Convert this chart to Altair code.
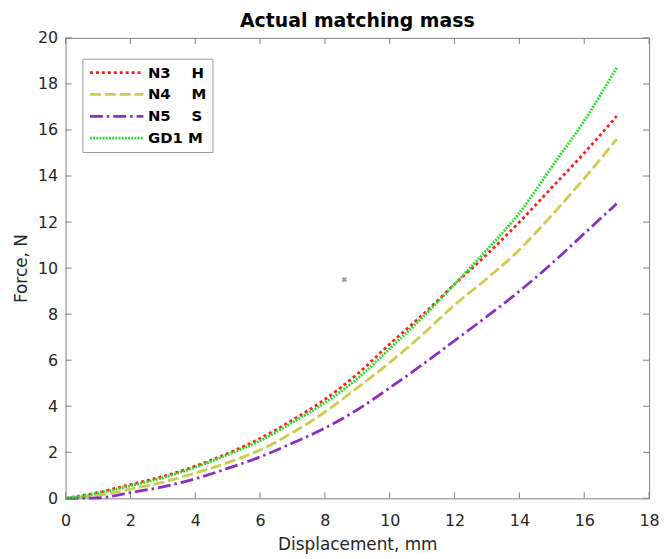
import altair as alt
import pandas as pd

x_vals = list(range(18))
n3 = [0, 0.25, 0.6, 0.95, 1.4, 1.95, 2.6, 3.4, 4.3, 5.4, 6.7, 7.95, 9.3, 10.6, 12.0, 13.5, 15.0, 16.6]
n4 = [0, 0.12, 0.4, 0.7, 1.1, 1.55, 2.1, 2.85, 3.75, 4.8, 5.9, 7.1, 8.4, 9.55, 10.8, 12.3, 13.9, 15.6]
n5 = [0, 0.02, 0.25, 0.5, 0.85, 1.3, 1.8, 2.4, 3.05, 3.85, 4.8, 5.8, 6.85, 7.9, 9.0, 10.2, 11.5, 12.8]
gd1 = [0, 0.22, 0.55, 0.9, 1.35, 1.9, 2.5, 3.3, 4.15, 5.2, 6.5, 7.85, 9.3, 10.8, 12.4, 14.4, 16.4, 18.7]

NB = "\u00a0"
series_names = ["N3" + NB * 4 + "H", "N4" + NB * 4 + "M", "N5" + NB * 4 + "S", "GD1" + NB + "M"]
series_values = [n3, n4, n5, gd1]
series_colors = ["#ff1a1a", "#cccc4d", "#8a2fc0", "#2fe02f"]
series_dash = [[3, 3], [11, 4], [13, 4, 2.5, 4], [2, 1.2]]

x_ticks = list(range(0, 19, 2))
y_ticks = list(range(0, 21, 2))
marker_x = [8.6]
marker_y = [9.5]

rows = []
for name, vals in zip(series_names, series_values):
    for xv, yv in zip(x_vals, vals):
        rows.append({"series": name, "x": xv, "y": yv, "order": series_names.index(name)})
df = pd.DataFrame(rows)

W, H = 588, 464
xs = alt.Scale(domain=[0, 18], nice=False)
ys = alt.Scale(domain=[0, 20], nice=False)

lines = alt.Chart(df).mark_line(strokeWidth=2.8, interpolate="monotone").encode(
    x=alt.X("x:Q", scale=xs, axis=alt.Axis(values=x_ticks, title="Displacement, mm", ticks=False,
                                           labelFlush=False, domain=False, grid=False,
                                           labelPadding=14, titlePadding=9)),
    y=alt.Y("y:Q", scale=ys, axis=alt.Axis(values=y_ticks, title="Force, N", ticks=False,
                                           labelFlush=False, domain=False, grid=False,
                                           labelPadding=8, titlePadding=7)),
    color=alt.Color("series:N", scale=alt.Scale(domain=series_names, range=series_colors),
                    legend=alt.Legend(title=None, orient="none", legendX=17, legendY=21,
                                      symbolType="stroke", symbolSize=2900, symbolStrokeWidth=2.8,
                                      clipHeight=16,
                                      labelFont="DejaVu Sans", labelFontWeight="bold", labelFontSize=15,
                                      labelColor="#000000", strokeColor="#999999", fillColor="#ffffff",
                                      padding=6, rowPadding=6, labelOffset=3)),
    strokeDash=alt.StrokeDash("series:N", scale=alt.Scale(domain=series_names, range=series_dash)),
    order="order:Q",
)

bx = pd.DataFrame({"t": x_ticks})
by = pd.DataFrame({"t": y_ticks})
tick_col = "#808080"
tb = alt.Chart(bx).mark_rule(color=tick_col).encode(x=alt.X("t:Q", scale=xs), y=alt.value(H), y2=alt.value(H - 6))
tt = alt.Chart(bx).mark_rule(color=tick_col).encode(x=alt.X("t:Q", scale=xs), y=alt.value(0), y2=alt.value(6))
tl = alt.Chart(by).mark_rule(color=tick_col).encode(y=alt.Y("t:Q", scale=ys), x=alt.value(0), x2=alt.value(6))
tr = alt.Chart(by).mark_rule(color=tick_col).encode(y=alt.Y("t:Q", scale=ys), x=alt.value(W), x2=alt.value(W - 6))

mk = alt.Chart(pd.DataFrame({"x": marker_x, "y": marker_y})).mark_point(
    shape="cross", angle=45, filled=True, size=30, color="#777777").encode(
    x=alt.X("x:Q", scale=xs), y=alt.Y("y:Q", scale=ys))

chart = alt.layer(tb, tt, tl, tr, mk, lines).properties(
    width=W, height=H,
    title=alt.Title("Actual matching mass", font="DejaVu Sans", fontSize=19, fontWeight="bold",
                    color="#000000", offset=-1),
    autosize=alt.AutoSizeParams(type="none"),
    padding={"left": 58, "top": 28, "right": 10, "bottom": 57},
).configure_view(stroke="#808080", strokeWidth=1).configure_axis(
    labelFont="DejaVu Sans", labelFontSize=16, labelColor="#262626",
    titleFont="DejaVu Sans", titleFontSize=17, titleColor="#262626", titleFontWeight="normal",
)

chart.save("out.html", embed_options={"renderer": "svg", "actions": False})
